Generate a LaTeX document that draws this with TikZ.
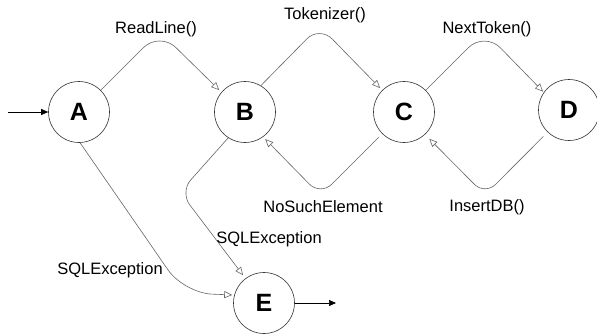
\documentclass[tikz,border=0pt]{standalone}
\usepackage{fontspec}
\setmainfont{Liberation Sans}
\usetikzlibrary{arrows.meta}
\begin{document}
\begin{tikzpicture}[x=1pt,y=1pt,
  state/.style={circle,draw=black!80,line width=0.6pt,minimum size=61pt,inner sep=0pt,
    font=\fontsize{25}{25}\selectfont\bfseries},
  trans/.style={draw=black!60,line width=0.6pt,
    -{Triangle[open,length=8pt,width=7pt]}},
  io/.style={draw=black,line width=0.7pt,-{Triangle[length=7pt,width=6pt]}},
  lbl/.style={font=\fontsize{16.5}{17}\selectfont,inner sep=0pt}]
\useasboundingbox (0,0) rectangle (597,-335);
\clip (0,0) rectangle (597,-335);

% states
\node[state] (A) at (79,-112) {A};
\node[state] (B) at (245,-112) {B};
\node[state] (C) at (404,-112) {C};
\node[state] (D) at (569,-110) {D};
\node[state] (E) at (264,-303) {E};

% entry and exit
\coordinate (start) at (8,-112);
\coordinate (stop) at (336,-303);
\draw[io] (start) -- (A.west);
\draw[io] (E.east) -- (stop);

% forward transitions
\draw[trans,rounded corners=23pt,shorten >=3pt] (A.45) -- (159.5,-31.5) -- (B.140);
\draw[trans,rounded corners=18pt,shorten >=3pt] (B.59) -- (319.5,-26) -- (C.135);
\draw[trans,rounded corners=23pt,shorten >=1pt] (C.45) -- (484.5,-31.5) -- (D.145);

% backward transitions
\draw[trans,rounded corners=16pt,shorten <=5pt,shorten >=3pt] (C.225) -- (320.5,-195.5) -- (B.-54);
\draw[trans,rounded corners=15pt,shorten <=6pt,shorten >=6pt] (D.226) -- (485,-195) -- (C.-47);

% exceptions
\draw[trans,rounded corners=16pt,shorten >=4pt] (B.237) -- (180,-192) -- (E.127);
\draw[trans,rounded corners=28pt,shorten >=2pt] (A.272) -- (184,-293) -- (E.165);

% labels
\node[lbl] (lread) at (156,-29) {ReadLine()};
\node[lbl] (ltok) at (325,-15) {Tokenizer()};
\node[lbl] (lnext) at (487,-29) {NextToken()};
\node[lbl] (lnse) at (323,-207) {NoSuchElement};
\node[lbl] (lins) at (487,-207) {InsertDB()};
\node[lbl] (lsqlb) at (269,-239) {SQLException};
\node[lbl] (lsqla) at (110,-270) {SQLException};
\end{tikzpicture}
\end{document}
